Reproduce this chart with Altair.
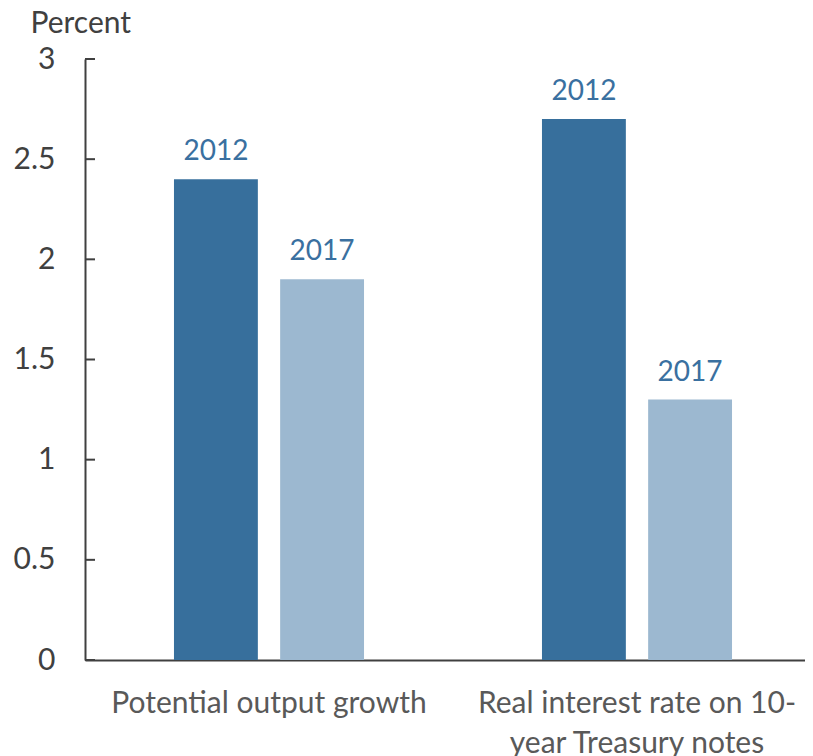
import altair as alt
import pandas as pd

categories = ["Potential output growth", "Real interest rate on 10-|year Treasury notes"]
years = ["2012", "2017"]
values_2012 = [2.4, 2.7]
values_2017 = [1.9, 1.3]
y_ticks = [0, 0.5, 1, 1.5, 2, 2.5, 3]

rows = []
for c, v12, v17 in zip(categories, values_2012, values_2017):
    rows.append({"cat": c, "year": years[0], "value": v12})
    rows.append({"cat": c, "year": years[1], "value": v17})
df = pd.DataFrame(rows)
ticks_df = pd.DataFrame({"t": y_ticks})

FONT = "Lato"
AX = "#404040"

x_enc = alt.X("cat:N", sort=categories, title=None,
              scale=alt.Scale(paddingInner=0, paddingOuter=0, range=[0, 736]),
              axis=alt.Axis(labelAngle=0, ticks=False, domainColor=AX, domainWidth=2,
                            labelFontSize=30, labelColor="#595959", labelFont=FONT,
                            labelPadding=52, labelBaseline="alphabetic", labelLineHeight=40,
                            labelExpr="split(datum.label, '|')", labelLimit=500))
xo_enc = alt.XOffset("year:N", sort=years,
                     scale=alt.Scale(paddingInner=0.21, paddingOuter=0.838))
y_enc = alt.Y("value:Q", scale=alt.Scale(domain=[0, 3], nice=False),
              axis=alt.Axis(values=y_ticks, tickSize=0, grid=False, domainColor=AX,
                            domainWidth=2, labelFontSize=30, labelColor=AX, labelFont=FONT,
                            labelPadding=30, format="~g",
                            title="Percent", titleAngle=0, titleAlign="left",
                            titleBaseline="alphabetic", titleX=-55, titleY=-27,
                            titleFontSize=30, titleFontWeight="normal",
                            titleColor=AX, titleFont=FONT))

color_enc = alt.Color("year:N", sort=years, legend=None,
                      scale=alt.Scale(domain=years, range=["#376f9c", "#9cb8d0"]))

base = alt.Chart(df)
bars = base.mark_bar().encode(x=x_enc, xOffset=xo_enc, y=y_enc, color=color_enc)
labels = base.mark_text(fontSize=28, font=FONT, color="#3a70a0", baseline="alphabetic",
                        dy=-19).encode(x=x_enc, xOffset=xo_enc, y=y_enc, text="year:N")
tick_marks = alt.Chart(ticks_df).mark_rule(color=AX, strokeWidth=2).encode(
    y=alt.Y("t:Q"), x=alt.value(0), x2=alt.value(10))

chart = alt.layer(bars, labels, tick_marks).properties(
    width=720, height=601,
    autosize=alt.AutoSizeParams(type="none"),
    padding={"left": 77, "top": 51, "right": 0, "bottom": 100},
).configure_view(stroke=None)

chart.save("out.html", embed_options={"renderer": "svg", "actions": False})
